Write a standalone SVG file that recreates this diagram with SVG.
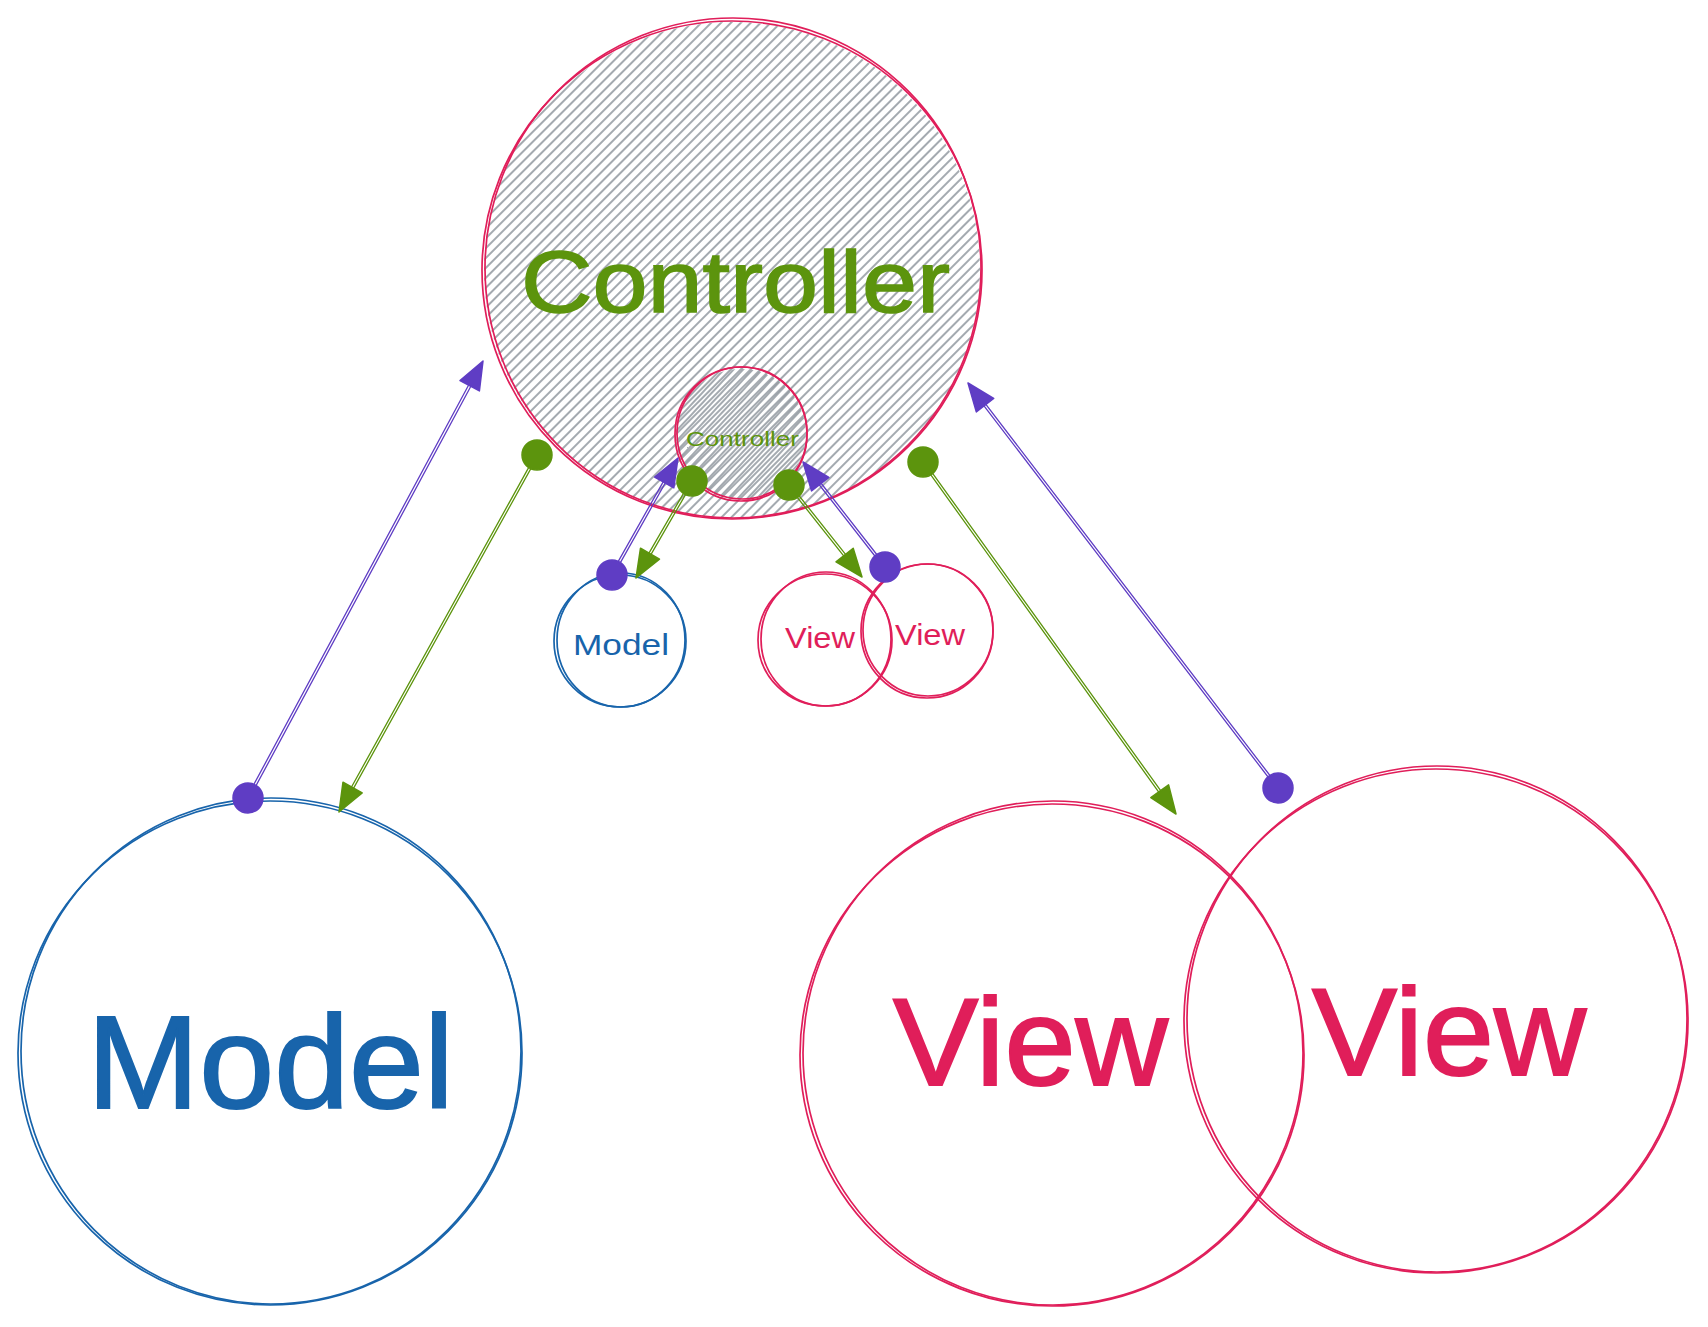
<svg xmlns="http://www.w3.org/2000/svg" width="1708" height="1327" viewBox="0 0 1708 1327">
<style>
.red{fill:none;stroke:#e01e5a;stroke-width:1.7}
.blue{fill:none;stroke:#1864ab;stroke-width:1.7}
.t{font-family:"Liberation Sans",Arial,sans-serif}
.tg{fill:#5c940d}
.tb{fill:#1864ab}
.tr{fill:#e01e5a}
.lp{stroke:#5f3dc4;stroke-width:1.3;fill:none;stroke-linecap:round}
.lg{stroke:#5c940d;stroke-width:1.3;fill:none;stroke-linecap:round}
.fp{fill:#5f3dc4;stroke:#5f3dc4;stroke-width:1.5;stroke-linejoin:round}
.fg{fill:#5c940d;stroke:#5c940d;stroke-width:1.5;stroke-linejoin:round}
</style>
<defs>
<pattern id="hatch" patternUnits="userSpaceOnUse" width="7" height="7" patternTransform="rotate(45)">
<line x1="1" y1="0" x2="1" y2="7" stroke="#868e96" stroke-width="1.5"/>
</pattern>
<pattern id="hatch2" patternUnits="userSpaceOnUse" width="7" height="7" patternTransform="rotate(43) translate(3.5 0)">
<line x1="1" y1="0" x2="1" y2="7" stroke="#868e96" stroke-width="1.5"/>
</pattern>
</defs>
<rect width="1708" height="1327" fill="#ffffff"/>

<g id="controller">
<circle cx="732" cy="270" r="248" fill="url(#hatch)"/>
<ellipse class="red" cx="732" cy="270" rx="250" ry="249"/>
<ellipse class="red" cx="733" cy="268" rx="248" ry="250"/>
<text class="t tg" x="521" y="312" font-size="88" textLength="429" lengthAdjust="spacingAndGlyphs" stroke="#5c940d" stroke-width="1.5">Controller</text>
</g>

<g id="controller-small">
<circle cx="741" cy="434" r="65" fill="url(#hatch2)"/>
<ellipse class="red" cx="741" cy="434" rx="66" ry="67"/>
<ellipse class="red" cx="742" cy="433" rx="65" ry="66"/>
<text class="t tg" x="686" y="446" font-size="21" textLength="113" lengthAdjust="spacingAndGlyphs">Controller</text>
</g>

<g id="model-small">
<ellipse class="blue" cx="620" cy="641" rx="66" ry="66"/>
<ellipse class="blue" cx="621" cy="640" rx="64" ry="67"/>
<text class="t tb" x="573" y="655" font-size="30" textLength="96" lengthAdjust="spacingAndGlyphs">Model</text>
</g>

<g id="view-small-1">
<ellipse class="red" cx="825" cy="640" rx="67" ry="66"/>
<ellipse class="red" cx="826" cy="639" rx="65" ry="67"/>
<text class="t tr" x="785" y="648" font-size="30" textLength="70" lengthAdjust="spacingAndGlyphs">View</text>
</g>

<g id="view-small-2">
<ellipse class="red" cx="927" cy="631" rx="66" ry="67"/>
<ellipse class="red" cx="928" cy="630" rx="65" ry="66"/>
<text class="t tr" x="895" y="645" font-size="30" textLength="70" lengthAdjust="spacingAndGlyphs">View</text>
</g>

<g id="model">
<ellipse class="blue" cx="270" cy="1053" rx="252" ry="252"/>
<ellipse class="blue" cx="271" cy="1051" rx="250" ry="253"/>
<text class="t tb" x="87" y="1108" font-size="132" textLength="367" lengthAdjust="spacingAndGlyphs" stroke="#1864ab" stroke-width="2">Model</text>
</g>

<g id="view-1">
<ellipse class="red" cx="1052" cy="1055" rx="252" ry="251"/>
<ellipse class="red" cx="1053" cy="1053" rx="250" ry="252"/>
<text class="t tr" x="893" y="1085" font-size="124" textLength="275" lengthAdjust="spacingAndGlyphs" stroke="#e01e5a" stroke-width="2">View</text>
</g>

<g id="view-2">
<ellipse class="red" cx="1436" cy="1021" rx="252" ry="252"/>
<ellipse class="red" cx="1437" cy="1019" rx="250" ry="253"/>
<text class="t tr" x="1312" y="1075" font-size="124" textLength="274" lengthAdjust="spacingAndGlyphs" stroke="#e01e5a" stroke-width="2">View</text>
</g>

<g id="connectors">
<g>
<path class="lp" d="M249.1 798.6L471.8 384.5M246.9 797.4L469.6 383.3"/>
<polygon class="fp" points="483,361 479.4,390.9 460,380.5"/>
<circle class="fp" cx="248" cy="798" r="15"/>
</g>
<g>
<path class="lg" d="M535.95 454.42L350.55 788.72M538.05 455.58L352.65 789.88"/>
<polygon class="fg" points="339,812 343,782.2 362.2,792.8"/>
<circle class="fg" cx="537" cy="455" r="15"/>
</g>
<g>
<path class="lg" d="M922.03 462.7L1159.83 793.6M923.97 461.3L1161.77 792.2"/>
<polygon class="fg" points="1176,814 1150.8,797.7 1168.6,784.9"/>
<circle class="fg" cx="923" cy="462" r="15"/>
</g>
<g>
<path class="lp" d="M1278.95 787.27L984.75 402.87M1277.05 788.73L982.85 404.33"/>
<polygon class="fp" points="968,383 993.7,398.5 976.3,411.9"/>
<circle class="fp" cx="1278" cy="788" r="15"/>
</g>
<g>
<path class="lp" d="M613.05 575.59L666.25 481.29M610.95 574.41L664.15 480.11"/>
<polygon class="fp" points="678,458 673.8,487.8 654.6,477"/>
<circle class="fp" cx="612" cy="575" r="15"/>
</g>
<g>
<path class="lg" d="M690.96 480.4L647.96 554.9M693.04 481.6L650.04 556.1"/>
<polygon class="fg" points="636,578 640.5,548.2 659.5,559.2"/>
<circle class="fg" cx="692" cy="481" r="15"/>
</g>
<g>
<path class="lg" d="M788.06 485.75L844.86 557.35M789.94 484.25L846.74 555.85"/>
<polygon class="fg" points="862,577 836,561.9 853.2,548.3"/>
<circle class="fg" cx="789" cy="485" r="15"/>
</g>
<g>
<path class="lp" d="M885.95 566.26L819.95 481.76M884.05 567.74L818.05 483.24"/>
<polygon class="fp" points="803,462 828.9,477.3 811.5,490.9"/>
<circle class="fp" cx="885" cy="567" r="15"/>
</g>
</g>
</svg>
